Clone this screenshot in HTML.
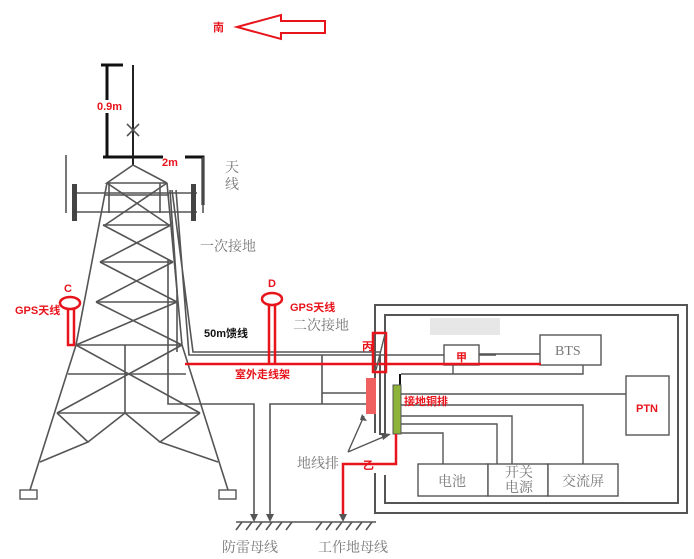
<!DOCTYPE html>
<html><head><meta charset="utf-8"><style>
body{margin:0;background:#fff}
svg{display:block}
.g{font-family:"Liberation Serif","Noto Serif CJK SC",serif;fill:#777;font-size:14px}
.r{font-family:"Liberation Sans","Noto Sans CJK SC",sans-serif;fill:#e8141c;font-size:11px;font-weight:bold}
</style></head><body>
<svg width="694" height="559" viewBox="0 0 694 559" xmlns="http://www.w3.org/2000/svg">
<text x="213" y="31" class="r">南</text>
<polygon points="237,27 281,15 281,21 325,21 325,33 281,33 281,39" fill="none" stroke="#e8141c" stroke-width="2"/>
<g stroke="#111" stroke-width="3" fill="none">
<path d="M101,65H123M107,65V157M103,157H163M185,157H203V205"/>
</g>
<path d="M133,65V165" stroke="#222" stroke-width="2"/>
<rect x="96" y="100" width="27" height="13" fill="#fff"/>
<text x="97" y="110" class="r">0.9m</text>
<text x="162" y="166" class="r">2m</text>
<g stroke="#555" stroke-width="1.6" fill="none">
<path d="M127,124L139,136M139,124L127,136"/>
<path d="M133,165L107,183H167Z"/>
<path d="M66,155V213M203,157V213M73,193H197M73,212H197M109,183V213M160,183V213"/>
<path d="M107,183L76,345L30,490M167,183L182,345L228,490"/>
<path d="M105,195H169M103,225H171M100,262H173M96,302H177M76,345H182M68,374H186M57,413H200"/>
<path d="M107,183L169,225M167,183L105,225M103,225L173,262M171,225L100,262M100,262L177,302M173,262L96,302M96,302L182,345M177,302L76,345"/>
<path d="M76,345L200,413M182,345L57,413M125,345V413"/>
<path d="M125,413L88,442M57,413L88,442L40,462M125,413L160,442M200,413L160,442L218,462"/>
<path d="M170,190L177,290M177,290V352"/>
</g>
<rect x="72" y="184" width="5" height="37" fill="#444"/>
<rect x="191" y="184" width="5" height="37" fill="#444"/>
<rect x="20" y="490" width="17" height="9" fill="#fff" stroke="#555" stroke-width="1.4"/>
<rect x="219" y="490" width="17" height="9" fill="#fff" stroke="#555" stroke-width="1.4"/>
<g stroke="#555" stroke-width="1.6" fill="none">
<path d="M172,190L193,352H380M176,190L189,355H496"/>
<path d="M479,354H540"/>
<path d="M168,260V404H254V518M270,518V404H322V355M322,393H366M282,404H366"/>
<path d="M236,522H376"/>
<path d="M236,530l6,-8M246,530l6,-8M256,530l6,-8M266,530l6,-8M276,530l6,-8M286,530l6,-8M316,530l6,-8M326,530l6,-8M336,530l6,-8M346,530l6,-8M356,530l6,-8M366,530l6,-8"/>
</g>
<polygon points="250,514 258,514 254,522" fill="#555"/>
<polygon points="266,514 274,514 270,522" fill="#555"/>
<g stroke="#555" stroke-width="2" fill="none">
<path d="M375,433V305H687V513H375V473"/>
<path d="M385,434V315H678V503H385V475"/>
<path d="M380,355V434H386"/>
</g>
<rect x="430" y="318" width="70" height="17" fill="#ddd" opacity="0.7"/>
<g stroke="#555" stroke-width="1.4" fill="#fff">
<rect x="444" y="345" width="35" height="20"/>
<rect x="540" y="335" width="61" height="30"/>
<rect x="626" y="376" width="43" height="59"/>
<rect x="418" y="464" width="70" height="32"/>
<rect x="488" y="464" width="60" height="32"/>
<rect x="548" y="464" width="70" height="32"/>
</g>
<g stroke="#555" stroke-width="1.4" fill="none">
<path d="M401,394H626M401,405H583V464M401,416H512V464M401,424H497V464M401,433H443V464"/>
<path d="M583,365V374H401M453,365V374"/>
</g>
<path d="M400,374V385" stroke="#111" stroke-width="2"/>
<rect x="366" y="378" width="10" height="36" fill="#f06060"/>
<rect x="393" y="385" width="8" height="49" fill="#8db33a" stroke="#555"/>
<g stroke="#e8141c" stroke-width="2.5" fill="none">
<path d="M185,364H541"/>
<rect x="373" y="333" width="13" height="39"/>
<path d="M396,434V464H343V514"/>
<ellipse cx="70" cy="303" rx="10" ry="6"/>
<path d="M68,309V345H74V309"/>
<ellipse cx="272" cy="299" rx="10" ry="6"/>
<path d="M269,305V364M275,305V364"/>
</g>
<path d="M385,334L376,370" stroke="#555" stroke-width="1.4"/>
<polygon points="339,514 347,514 343,522" fill="#555"/>
<g stroke="#555" stroke-width="1.4"><path d="M348,452L364,416M348,452L388,435"/></g>
<polygon points="362,414 367,421 360,420" fill="#555"/>
<polygon points="391,434 383,440 381,433" fill="#555"/>
<text x="225" y="172" class="g">天</text>
<text x="225" y="189" class="g">线</text>
<text x="200" y="251" class="g">一次接地</text>
<text x="293" y="330" class="g">二次接地</text>
<text x="297" y="468" class="g">地线排</text>
<text x="222" y="552" class="g">防雷母线</text>
<text x="318" y="552" class="g">工作地母线</text>
<text x="555" y="355" class="g" font-size="13">BTS</text>
<text x="438" y="486" class="g">电池</text>
<text x="505" y="477" class="g" font-size="13">开关</text>
<text x="505" y="492" class="g" font-size="13">电源</text>
<text x="562" y="486" class="g">交流屏</text>
<text x="204" y="337" font-family="Liberation Sans,Noto Sans CJK SC,sans-serif" font-size="11" font-weight="bold" fill="#111">50m馈线</text>
<text x="64" y="292" class="r">C</text>
<text x="15" y="314" class="r">GPS天线</text>
<text x="268" y="287" class="r">D</text>
<text x="290" y="311" class="r">GPS天线</text>
<text x="235" y="378" class="r">室外走线架</text>
<text x="362" y="350" class="r">丙</text>
<text x="456" y="361" class="r">甲</text>
<text x="404" y="405" class="r">接地铜排</text>
<text x="363" y="469" class="r">乙</text>
<text x="636" y="412" class="r" font-size="12">PTN</text>
</svg>
</body></html>
